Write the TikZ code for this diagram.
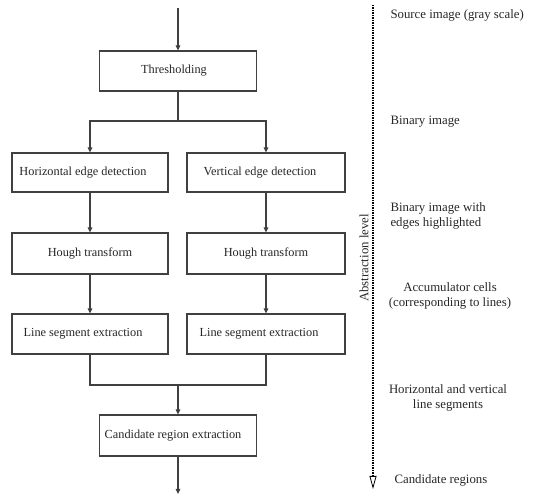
\documentclass[tikz,border=0pt]{standalone}
\usepackage{fontspec}
\setmainfont{Liberation Serif}
\usetikzlibrary{arrows.meta}
\begin{document}
\begin{tikzpicture}[x=1pt,y=-1pt,
  box/.style={draw=black!75,line width=1.2pt,minimum height=40pt,inner sep=0pt,font=\fontsize{12.3}{14}\selectfont,text=black!85},
  conn/.style={draw=black!75,line width=1.2pt},
  arr/.style={conn,-{Triangle[length=5pt,width=4.5pt]}},
  lbl/.style={font=\fontsize{12.8}{15.5}\selectfont,align=center,text=black!85}]
\useasboundingbox (0,0) rectangle (542,494);
\coordinate (top) at (178,8);
\node[box,minimum width=157pt] (thr) at (178,71) {Thresholding\hspace*{8pt}};
\node[box,minimum width=156pt,minimum height=39pt] (hed) at (90,172.5) {Horizontal edge detection\hspace*{14pt}};
\node[box,minimum width=158pt,minimum height=39pt] (ved) at (266,172.5) {Vertical edge detection\hspace*{12pt}};
\node[box,minimum width=156pt,minimum height=41pt] (hh) at (90,253.5) {Hough transform};
\node[box,minimum width=158pt,minimum height=41pt] (vh) at (266,253.5) {Hough transform};
\node[box,minimum width=156pt] (hl) at (90,334) {Line segment extraction\hspace*{14pt}};
\node[box,minimum width=158pt] (vl) at (266,334) {Line segment extraction\hspace*{14pt}};
\node[box,minimum width=157pt,minimum height=41pt] (cr) at (178,435.5) {Candidate region extraction\hspace*{10pt}};
\coordinate (bot) at (178,494);
\coordinate (split) at (178,121);
\coordinate (merge) at (178,385);
\draw[arr] (top) -- (thr.north);
\draw[conn] (thr.south) -- (split);
\draw[arr] (split) -| (hed.north);
\draw[arr] (split) -| (ved.north);
\draw[arr] (hed) -- (hh);
\draw[arr] (ved) -- (vh);
\draw[arr] (hh) -- (hl);
\draw[arr] (vh) -- (vl);
\draw[conn] (hl.south) |- (merge);
\draw[conn] (vl.south) |- (merge);
\draw[arr] (merge) -- (cr.north);
\draw[arr] (cr.south) -- (bot);
% abstraction axis
\coordinate (ax0) at (373,5);
\coordinate (ax1) at (373,489);
\draw[line width=1.4pt,dash pattern=on 1.5pt off 1pt,-{Triangle[open,length=13pt,width=7pt,line width=0.8pt,sep=0pt]}] (ax0) -- (ax1);
\node[lbl,rotate=90] (abs) at (364,258) {Abstraction level};
\node[lbl,anchor=west] (l1) at (387,15) {Source image (gray scale)};
\node[lbl,anchor=west] (l2) at (387,122) {Binary image};
\node[lbl,anchor=west,align=left] (l3) at (387,216) {Binary image with\\edges highlighted};
\node[lbl] (l4) at (450,296) {Accumulator cells\\(corresponding to lines)};
\node[lbl] (l5) at (448,398) {Horizontal and vertical\\line segments};
\node[lbl,anchor=west] (l6) at (391,480) {Candidate regions};
\end{tikzpicture}
\end{document}
